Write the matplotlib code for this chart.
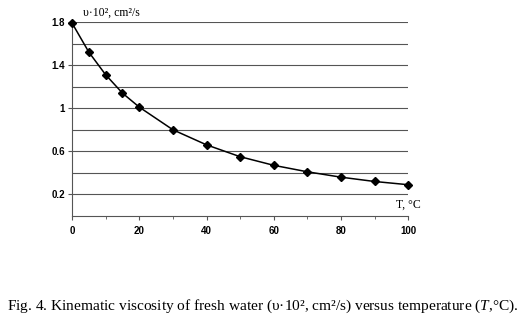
import matplotlib
matplotlib.use("Agg")
import matplotlib.pyplot as plt

plt.rcParams["mathtext.fontset"] = "custom"
plt.rcParams["mathtext.rm"] = "Liberation Serif"
plt.rcParams["mathtext.it"] = "Liberation Serif:italic"

# temperature, deg C
temp = [0, 5, 10, 15, 20, 30, 40, 50, 60, 70, 80, 90, 100]
# kinematic viscosity * 10^2, cm2/s
visc = [1.79, 1.52, 1.31, 1.14, 1.01, 0.80, 0.66, 0.55, 0.47, 0.41, 0.36, 0.32, 0.29]

x_ticks = [0, 20, 40, 60, 80, 100]
y_ticks = [0.2, 0.6, 1.0, 1.4, 1.8]
y_tick_labels = ["0.2", "0.6", "1", "1.4", "1.8"]
grid_levels = [0.2, 0.4, 0.6, 0.8, 1.0, 1.2, 1.4, 1.6, 1.8]

fig = plt.figure(figsize=(5.26, 3.19), dpi=100)
ax = fig.add_axes([0.137, 0.323, 0.639, 0.608])

for g in grid_levels:
    ax.axhline(g, color="#555555", lw=0.8, zorder=1)

ax.plot(temp, visc, color="black", lw=1.1, marker="D", markersize=4.5,
        clip_on=False, zorder=3)

ax.set_xlim(0, 100)
ax.set_ylim(0, 1.8)
ax.set_xticks(x_ticks)
ax.set_xticks(range(0, 101, 10), minor=True)
ax.set_yticks(y_ticks)
ax.set_yticklabels(y_tick_labels)
ax.tick_params(axis="both", labelsize=7, length=3, width=0.8, pad=2,
               color="#555555")
ax.tick_params(axis="x", pad=4)
ax.tick_params(axis="x", which="minor", length=2, color="#555555")
for lab in ax.get_xticklabels() + ax.get_yticklabels():
    lab.set_fontweight("bold")
    lab.set_family("Liberation Sans")

ax.spines["top"].set_visible(False)
ax.spines["right"].set_visible(False)
ax.spines["left"].set_color("#555555")
ax.spines["bottom"].set_color("#555555")

fig.text(83 / 526, 1 - 13 / 319, "υ·10², cm²/s", family="Liberation Serif",
         fontsize=8.5, ha="left", va="center")
fig.text(421 / 526, 1 - 205 / 319, "T, °C", family="Liberation Serif",
         fontsize=8.5, ha="right", va="center")
fig.text(0.5, 1 - 306 / 319,
         "Fig. 4. Kinematic viscosity of fresh water (υ·10², cm²/s) versus temperature ($\\it{T}$,°C).",
         family="Liberation Serif", fontsize=11.1, ha="center", va="center")

fig.savefig("out.png", dpi=100)
